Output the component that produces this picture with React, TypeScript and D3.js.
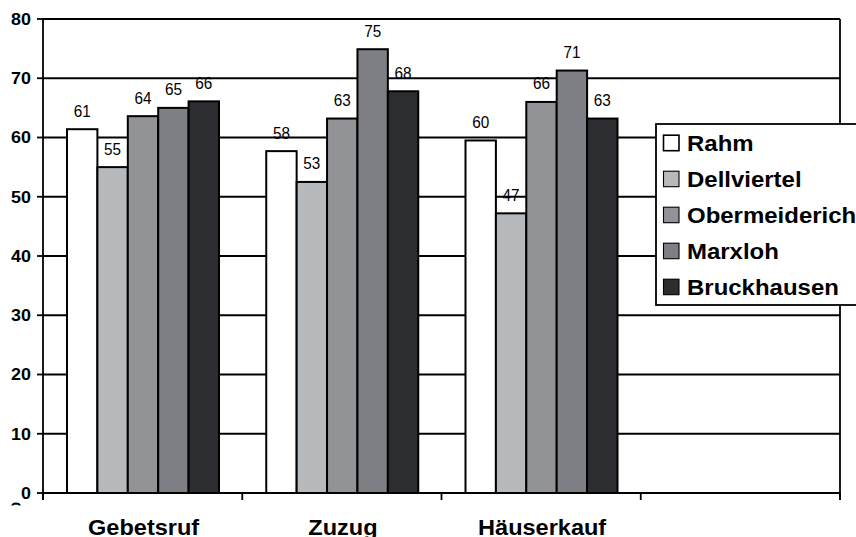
import React from "react";
import * as d3 from "d3";

const categories = ["Gebetsruf", "Zuzug", "Häuserkauf", ""];
const seriesNames = ["Rahm", "Dellviertel", "Obermeiderich", "Marxloh", "Bruckhausen"];
const seriesColors = ["#ffffff", "#b7babd", "#929397", "#7e7f84", "#2c2d31"];
const rahm = [61.4, 57.7, 59.5];
const dellviertel = [55.0, 52.5, 47.2];
const obermeiderich = [63.6, 63.2, 66.0];
const marxloh = [65.0, 74.9, 71.3];
const bruckhausen = [66.1, 67.8, 63.2];
const seriesValues = [rahm, dellviertel, obermeiderich, marxloh, bruckhausen];
const yTicks = [0, 10, 20, 30, 40, 50, 60, 70, 80];

const W = 856;
const H = 537;
const left = 43;
const right = 840;
const top = 19;
const bottom = 493;

export default function App() {
  const x = d3.scaleBand<string>().domain(categories.map((c, i) => c + i)).range([left, right]).padding(0);
  const y = d3.scaleLinear().domain([0, 80]).range([bottom, top]);
  const bw = x.bandwidth();
  const inner = d3
    .scaleBand<string>()
    .domain(seriesNames)
    .range([24, 24 + 30.4 * 5])
    .padding(0);
  const font = "Arial, 'Liberation Sans', sans-serif";

  return (
    <svg width={W} height={H} style={{ position: "absolute", left: 0, top: 0, background: "#fff" }} fontFamily={font}>
      <defs>
        <clipPath id="clipD">
          <rect x={0} y={495} width={40} height={10.5} />
        </clipPath>
      </defs>
      <rect width={W} height={H} fill="#fff" />
      {/* gridlines */}
      {yTicks.map((t) => (
        <line key={"g" + t} x1={left} x2={right} y1={y(t)} y2={y(t)} stroke="#000" strokeWidth={1.8} />
      ))}
      {/* right border */}
      <line x1={right} x2={right} y1={top} y2={bottom + 7} stroke="#000" strokeWidth={1.8} />
      {/* y axis */}
      <line x1={left} x2={left} y1={top} y2={bottom + 7} stroke="#000" strokeWidth={1.8} />
      {yTicks.map((t) => (
        <g key={"t" + t}>
          <line x1={left - 6} x2={left} y1={y(t)} y2={y(t)} stroke="#000" strokeWidth={1.8} />
          <text
            transform={`translate(31,${y(t) + 5.8}) scale(1.12,1)`}
            textAnchor="end"
            fontSize={16}
            fontWeight="bold"
          >
            {t}
          </text>
        </g>
      ))}
      {/* x ticks */}
      {categories.map((c, i) => (
        <line key={"xt" + i} x1={x(c + i)!} x2={x(c + i)!} y1={bottom} y2={bottom + 7} stroke="#000" strokeWidth={1.8} />
      ))}
      <line x1={right} x2={right} y1={bottom} y2={bottom + 7} stroke="#000" strokeWidth={1.8} />
      {/* bars */}
      {seriesValues.map((vals, si) =>
        vals.map((v, ci) => {
          const bx = x(categories[ci] + ci)! + inner(seriesNames[si])!;
          const w = inner.bandwidth();
          return (
            <g key={`b${si}-${ci}`}>
              <rect x={bx} y={y(v)} width={w} height={y(0) - y(v)} fill={seriesColors[si]} stroke="#000" strokeWidth={2} />
              <text
                transform={`translate(${bx + w / 2},${y(v) - 12.5}) scale(0.9,1)`}
                textAnchor="middle"
                fontSize={17}
              >
                {Math.round(v)}
              </text>
            </g>
          );
        })
      )}
      {/* category labels */}
      {categories.map((c, i) =>
        c ? (
          <text
            key={"c" + i}
            transform={`translate(${x(c + i)! + bw / 2 + 1},535) scale(1.07,1)`}
            textAnchor="middle"
            fontSize={22}
            fontWeight="bold"
          >
            {c}
          </text>
        ) : null
      )}
      {/* clipped rotated fragment */}
      <g clipPath="url(#clipD)">
        <text transform="translate(21,512) rotate(-90)" fontSize={14} fontWeight="bold">
          D
        </text>
      </g>
      {/* legend */}
      <rect x={656} y={124} width={230} height={181} fill="#fff" stroke="#000" strokeWidth={1.8} />
      {seriesNames.map((n, i) => {
        const by = 150.7 + i * 36;
        return (
          <g key={"l" + n}>
            <rect x={663.5} y={by - 15.5} width={15.5} height={15.5} fill={seriesColors[i]} stroke="#000" strokeWidth={i === 0 ? 1.6 : 1.1} />
            <text transform={`translate(687,${by}) scale(1.09,1)`} fontSize={22} fontWeight="bold">
              {n}
            </text>
          </g>
        );
      })}
    </svg>
  );
}
